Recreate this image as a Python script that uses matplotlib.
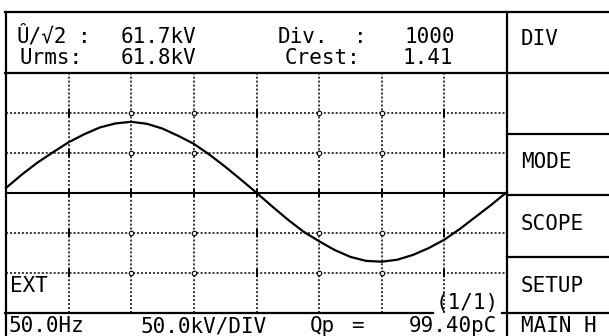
import matplotlib.pyplot as plt
from matplotlib import font_manager

W, H = 609, 336

# trace, x and y in divisions
WAVE_X = [0.00, 0.25, 0.50, 0.75, 1.00, 1.25, 1.50, 1.75, 2.00, 2.25, 2.50,
          2.75, 3.00, 3.25, 3.50, 3.75, 4.00, 4.25, 4.50, 4.75, 5.00, 5.25,
          5.50, 5.75, 6.00, 6.25, 6.50, 6.75, 7.00, 7.25, 7.50, 7.75, 8.00]
WAVE_Y = [0.12, 0.45, 0.75, 1.01, 1.26, 1.46, 1.63, 1.73, 1.77, 1.72, 1.60,
          1.42, 1.22, 0.95, 0.65, 0.33, 0.00, -0.34, -0.67, -0.97, -1.21, -1.43,
          -1.60, -1.70, -1.72, -1.67, -1.55, -1.38, -1.17, -0.90, -0.60, -0.30, 0.02]

V_DIVS = [1, 2, 3, 4, 5, 6, 7]
H_DIVS = [-2, -1, 1, 2]
TICKED = [1, 4, 7]      # verticals with solid ticks at crossings
RINGED = [2, 3, 5, 6]   # verticals with small rings at crossings

READOUT_LABELS = ['Û/√2', 'Urms:']
READOUT_VALUES = ['61.7kV', '61.8kV']
INFO_LABELS = ['Div.', 'Crest:']
INFO_VALUES = ['1000', '1.41']
MENU = ['DIV', 'MODE', 'SCOPE', 'SETUP']
STATUS = ['50.0Hz', '50.0kV/DIV', 'Qp', '=', '99.40pC', 'MAIN H']

names = {f.name for f in font_manager.fontManager.ttflist}
FONT = 'DejaVu Sans Mono' if 'DejaVu Sans Mono' in names else 'DejaVu Sans'
FS = 15

fig = plt.figure(figsize=(W / 100, H / 100), dpi=100)
fig.patch.set_facecolor('white')

# screen area: 8 x 6 divisions
gx0, gx1, gy0, gy1 = 6, 507, 72.5, 313
ax = fig.add_axes([gx0 / W, 1 - gy1 / H, (gx1 - gx0) / W, (gy1 - gy0) / H])
ax.set_xlim(0, 8)
ax.set_ylim(-3, 3)
ax.axis('off')

dots = (0, (1.3, 1.3))
ax.vlines(V_DIVS, -3, 3, colors='k', linestyles=[dots], lw=1.1)
ax.hlines(H_DIVS, 0, 8, colors='k', linestyles=[dots], lw=1.1)
ax.axhline(0, color='k', lw=1.5)
for x in TICKED:
    ax.plot([x] * 5, H_DIVS + [0], ls='none', marker='|', ms=6, mew=1.4, color='k')
for x in RINGED:
    ax.plot([x] * 4, H_DIVS, ls='none', marker='o', ms=3.2, mew=0.8,
            mfc='white', mec='k')
    ax.plot([x], [0], ls='none', marker='|', ms=6, mew=1.4, color='k')

ax.plot(WAVE_X, WAVE_Y, color='k', lw=1.6, clip_on=False)

# frame and text overlay in pixel units
ov = fig.add_axes([0, 0, 1, 1], zorder=3)
ov.set_xlim(0, W)
ov.set_ylim(H, 0)
ov.axis('off')
ov.patch.set_alpha(0)

lw = 1.6
ov.plot([5, W], [12, 12], color='k', lw=lw)
ov.plot([5.5, 5.5], [12, H], color='k', lw=lw)
ov.plot([507, 507], [12, H], color='k', lw=lw)
ov.plot([5, W], [72.5, 72.5], color='k', lw=lw)
for y in [134, 195, 257]:
    ov.plot([507, W], [y, y], color='k', lw=lw)
ov.plot([5, 433], [313, 313], color='k', lw=lw)
ov.plot([502, W], [313, 313], color='k', lw=lw)


def put(x, y, s, ha='center'):
    ov.text(x, y, s, ha=ha, va='baseline', fontsize=FS, family=FONT, color='k')


# header readouts
put(42, 43, READOUT_LABELS[0])
put(84, 43, ':')
put(51.5, 64.5, READOUT_LABELS[1])
put(158, 43, READOUT_VALUES[0])
put(158, 64.5, READOUT_VALUES[1])
put(303, 43, INFO_LABELS[0])
put(360, 43, ':')
put(323, 64.5, INFO_LABELS[1])
put(430, 43, INFO_VALUES[0])
put(428, 64.5, INFO_VALUES[1])

# soft-key menu
for label, y in zip(MENU, [45, 168, 230, 292]):
    put(521, y, label, ha='left')

# screen notes
put(28.5, 292, 'EXT')
put(467.5, 309, '(1/1)')

# status bar
for label, x in zip(STATUS[:5], [46.5, 203.5, 322.5, 357, 453]):
    put(x, 332, label)
put(521, 332, STATUS[5], ha='left')

fig.savefig('out.png', dpi=100)
